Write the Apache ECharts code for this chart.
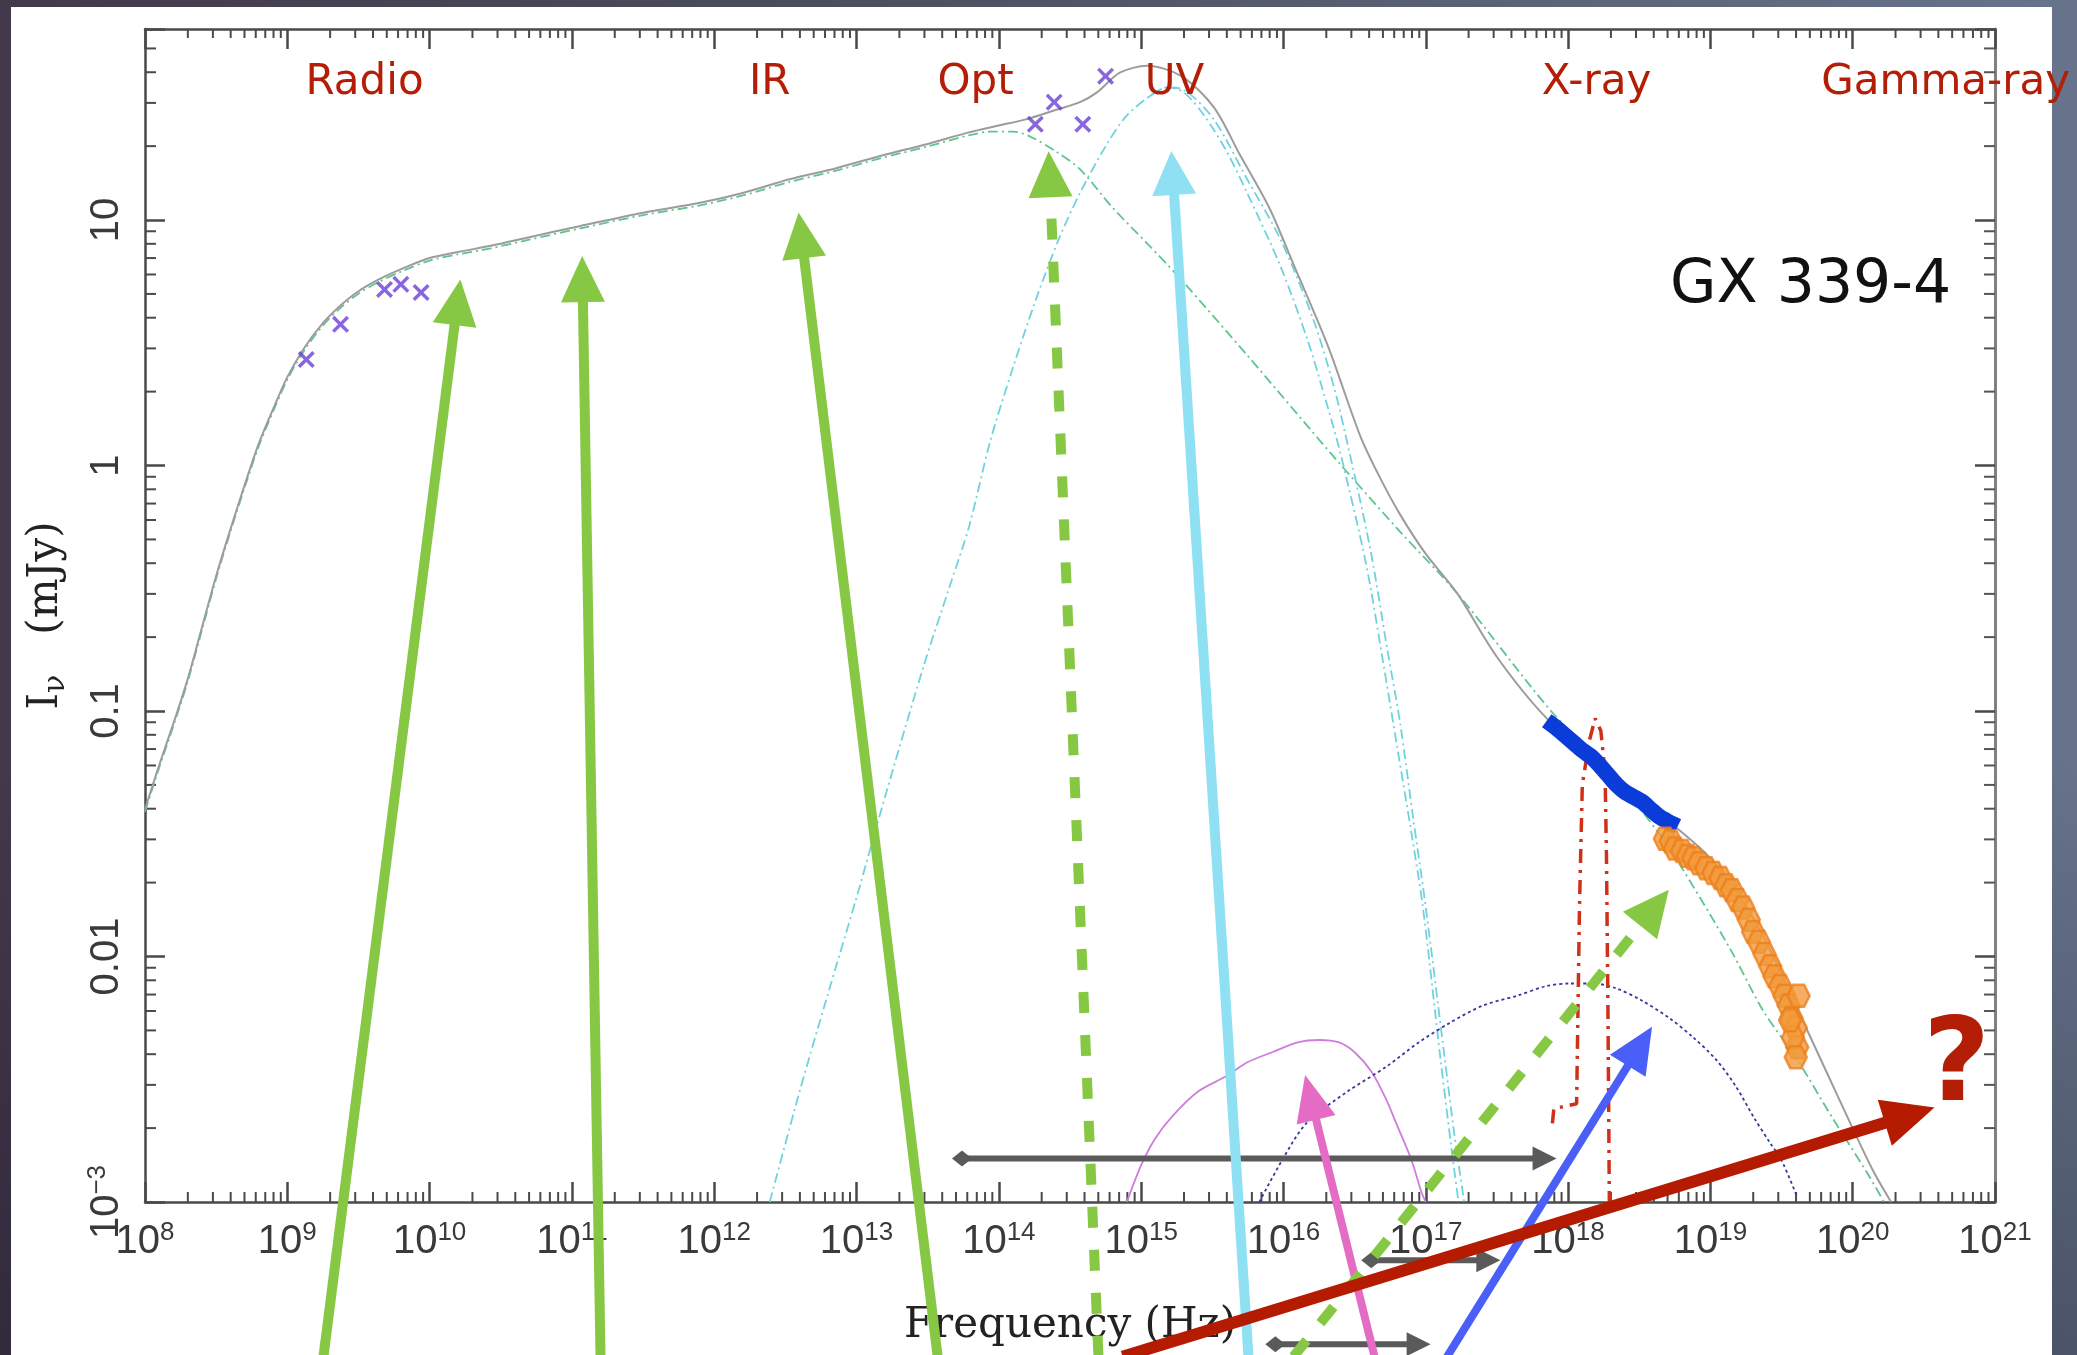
<!DOCTYPE html>
<html><head><meta charset="utf-8">
<script src="https://cdn.jsdelivr.net/npm/echarts/dist/echarts.min.js"></script>
<style>
html,body{margin:0;padding:0;width:2077px;height:1355px;overflow:hidden;}
body{background:
 linear-gradient(180deg, rgba(0,0,0,0) 55%, rgba(10,10,25,0.30) 100%),
 linear-gradient(90deg, #43394b 0%, #4b4e5d 40%, #67748b 100%);}
#panel{position:absolute;left:11px;top:7px;width:2041px;height:1348px;background:#ffffff;}
#chart{position:absolute;left:0;top:0;width:2077px;height:1355px;}
</style></head><body>
<div id="panel"></div><div id="chart"></div>
<script>
// ---------- DATA (log10 frequency [Hz], log10 flux density [mJy]) ----------
// total model (grey solid)
const totalLogNu = [8.0,8.1,8.2,8.3,8.4,8.5,8.6,8.7,8.8,8.9,9.0,9.12,9.25,9.37,9.5,9.65,9.8,10.0,10.2,10.43,10.7,11.06,11.5,11.9,12.2,12.53,12.85,13.16,13.5,13.79,14.0,14.19,14.41,14.57,14.69,14.85,15.04,15.28,15.51,15.69,15.9,16.07,16.31,16.54,16.67,16.82,17.0,17.22,17.5,17.85,18.2,18.5,18.77,19.0,19.2,19.4,19.6,19.8,20.0,20.15,20.27];
const totalLogF  = [-1.40,-1.22,-1.05,-0.87,-0.66,-0.45,-0.26,-0.08,0.09,0.23,0.36,0.48,0.58,0.65,0.71,0.76,0.80,0.845,0.87,0.895,0.93,0.976,1.03,1.07,1.11,1.166,1.21,1.26,1.31,1.357,1.385,1.41,1.45,1.48,1.52,1.6,1.628,1.587,1.46,1.27,1.05,0.82,0.49,0.12,-0.04,-0.2,-0.36,-0.52,-0.78,-1.03,-1.2,-1.36,-1.48,-1.6,-1.75,-1.95,-2.2,-2.45,-2.7,-2.88,-3.0];
// jet synchrotron (green dash-dot)
const jetLogNu = [8.0,8.1,8.2,8.3,8.4,8.5,8.6,8.7,8.8,8.9,9.0,9.12,9.25,9.37,9.5,9.65,9.8,10.0,10.2,10.43,10.7,11.06,11.5,11.9,12.2,12.53,12.85,13.16,13.5,13.79,13.94,14.1,14.22,14.4,14.57,14.8,15.05,15.28,15.75,16.35,16.82,17.22,17.88,18.3,18.64,18.79,19.14,19.37,19.61,19.85,20.1,20.22];
const jetLogF  = [-1.41,-1.23,-1.06,-0.88,-0.67,-0.46,-0.27,-0.09,0.08,0.22,0.35,0.47,0.57,0.64,0.7,0.75,0.79,0.835,0.86,0.885,0.92,0.966,1.02,1.06,1.1,1.155,1.2,1.25,1.3,1.345,1.36,1.36,1.34,1.28,1.207,1.05,0.9,0.758,0.446,0.038,-0.27,-0.52,-1.0,-1.25,-1.5,-1.63,-1.97,-2.22,-2.42,-2.65,-2.88,-3.0];
// accretion disc (cyan dash-dot, two models)
const diskLogNu = [12.39,12.6,12.8,13.0,13.2,13.47,13.65,13.79,13.94,14.1,14.26,14.42,14.57,14.75,14.89,15.05,15.18,15.3,15.51,15.745,15.98,16.21,16.35,16.43,16.61,16.73,16.82,16.91,17.0,17.13,17.2,17.27];
const diskLogF  = [-3.0,-2.55,-2.15,-1.76,-1.35,-0.82,-0.5,-0.25,0.1,0.4,0.675,0.92,1.11,1.3,1.42,1.5,1.54,1.53,1.41,1.166,0.92,0.595,0.33,0.14,-0.34,-0.75,-1.05,-1.43,-1.8,-2.4,-2.72,-3.0];
const disk2LogNu = [15.05,15.18,15.3,15.45,15.6,15.745,15.98,16.17,16.31,16.4,16.58,16.7,16.8,16.9,16.98,17.1,17.18,17.23];
const disk2LogF  = [1.5,1.54,1.52,1.42,1.28,1.11,0.81,0.51,0.24,0.05,-0.4,-0.8,-1.15,-1.5,-1.8,-2.4,-2.78,-3.0];
// magenta solid component
const softLogNu = [14.9,15.0,15.1,15.22,15.4,15.59,15.75,15.92,16.1,16.25,16.39,16.5,16.62,16.72,16.8,16.9,16.97,17.0];
const softLogF  = [-3.0,-2.85,-2.74,-2.65,-2.55,-2.49,-2.43,-2.39,-2.35,-2.34,-2.35,-2.39,-2.47,-2.58,-2.69,-2.83,-2.96,-3.0];
// navy dotted component
const hardLogNu = [15.83,16.0,16.16,16.45,16.72,16.95,17.17,17.4,17.64,17.85,18.01,18.18,18.34,18.52,18.71,18.88,19.04,19.18,19.31,19.42,19.5,19.61];
const hardLogF  = [-3.0,-2.82,-2.68,-2.55,-2.45,-2.35,-2.27,-2.2,-2.16,-2.12,-2.11,-2.11,-2.13,-2.18,-2.25,-2.33,-2.42,-2.53,-2.66,-2.76,-2.83,-2.98];
// iron line (red dash-dot)
const lineLogNu = [17.89,17.9,18.06,18.08,18.1,18.15,18.19,18.23,18.26,18.27,18.28,18.29];
const lineLogF  = [-2.68,-2.62,-2.6,-1.8,-1.3,-1.12,-1.03,-1.08,-1.25,-1.6,-2.2,-3.0];
// observed points
const radioLogNu = [9.133,9.374,9.683,9.798,9.94];
const radioLogF  = [0.432,0.575,0.717,0.738,0.705];
const optLogNu = [14.256,14.389,14.59,14.75];
const optLogF  = [1.39,1.48,1.39,1.586];
const xrayLogNu = [17.85,17.92,17.98,18.04,18.1,18.16,18.22,18.28,18.34,18.4,18.46,18.52,18.58,18.64,18.7,18.77];
const xrayLogF  = [-1.04,-1.07,-1.1,-1.13,-1.16,-1.185,-1.22,-1.26,-1.3,-1.33,-1.35,-1.37,-1.4,-1.43,-1.45,-1.47];
const hxLogNu = [18.68,18.72,18.75,18.8,18.84,18.88,18.92,18.97,19.02,19.07,19.11,19.15,19.19,19.23,19.27,19.3,19.34,19.38,19.42,19.45,19.49,19.52,19.55,19.57,19.6,19.61,19.58,19.62,19.56,19.6];
const hxLogF  = [-1.52,-1.53,-1.56,-1.57,-1.59,-1.6,-1.62,-1.64,-1.66,-1.68,-1.71,-1.73,-1.77,-1.8,-1.85,-1.9,-1.94,-1.99,-2.04,-2.08,-2.12,-2.16,-2.2,-2.25,-2.29,-2.37,-2.33,-2.16,-2.26,-2.41];
// annotation arrows (tail -> tip)
const arrowTailLogNu = [9.254,11.201,13.57,14.70,15.754,16.64,17.15,16.07,14.87];
const arrowTailLogF  = [-3.63,-3.63,-3.63,-3.63,-3.63,-3.63,-3.63,-3.63,-3.63];
const arrowTipLogNu  = [10.216,11.072,12.593,14.35,15.212,16.152,18.59,18.708,20.575];
const arrowTipLogF   = [0.758,0.853,1.031,1.28,1.281,-2.483,-2.286,-1.728,-2.615];
// band ranges (grey double-ended bars)
const rangeLoLogNu = [13.741,16.617,15.943];
const rangeHiLogNu = [17.919,17.524,17.034];
const rangeLogF    = [-2.823,-3.237,-3.579];
// text annotations
const bandNames = ['Radio','IR','Opt','UV','X-ray','Gamma-ray'];
const bandLogNu = [9.543,12.39,13.836,15.234,18.2,20.653];
const bandLogF  = [1.556,1.556,1.556,1.556,1.556,1.556];
const sourceName = ['GX 339-4'];
const sourceLogNu = [19.704];
const sourceLogF = [0.731];
const queryText = ['?'];
const queryLogNu = [20.73];
const queryLogF = [-2.46];
// axis tick labels
const yTickText = {'-3':'{b|10}{e|−3}','-2':'{b|0.01}','-1':'{b|0.1}','0':'{b|1}','1':'{b|10}'};

// ---------- helpers ----------
const P = v => Math.pow(10, v);
const pairs = (xs, ys) => xs.map((x, i) => [P(x), P(ys[i])]);
const isPow10 = v => Math.abs(Math.log10(v) - Math.round(Math.log10(v))) < 1e-6;

const arrowStyle = [
  {c:'#86c843', w:10, L:46, W:44, dash:null},
  {c:'#86c843', w:10, L:46, W:44, dash:null},
  {c:'#86c843', w:10, L:46, W:44, dash:null},
  {c:'#86c843', w:10, L:46, W:44, dash:[21,22]},
  {c:'#8ee0f2', w:10, L:44, W:44, dash:null},
  {c:'#e46cc4', w:8,  L:46, W:40, dash:null},
  {c:'#4a5ff8', w:8,  L:46, W:42, dash:null},
  {c:'#86c843', w:10, L:46, W:44, dash:[21,22]},
  {c:'#b51b00', w:12, L:52, W:48, dash:null}
];

function arrowShape(p1, p2, L, W) {
  const dx = p2[0]-p1[0], dy = p2[1]-p1[1];
  const len = Math.sqrt(dx*dx+dy*dy) || 1;
  const ux = dx/len, uy = dy/len, nx = -uy, ny = ux;
  const bx = p2[0]-ux*L, by = p2[1]-uy*L;
  return {shaftEnd:[bx+ux*2, by+uy*2],
          head:[[p2[0],p2[1]],[bx+nx*W/2, by+ny*W/2],[bx-nx*W/2, by-ny*W/2]], ux, uy, nx, ny};
}

// minor tick positions (2..9 per decade)
const xMinor = [], yMinor = [];
for (let d = 8; d < 21; d++) for (let m = 2; m <= 9; m++) xMinor.push([m*P(d), 1]);
for (let d = -3; d < 2; d++) for (let m = 2; m <= 9; m++) { const v = m*P(d); if (v < 60) yMinor.push([1e10, v]); }

const tickFont = 'Liberation Sans, Arial, Helvetica, sans-serif';
const serif = 'DejaVu Serif, Liberation Serif, serif';
const comic = 'DejaVu Sans, Noto Sans, sans-serif';
const richX = {
  b:{fontSize:40, fontFamily:tickFont, color:'#3a3a3a', lineHeight:44},
  e:{fontSize:26, fontFamily:tickFont, color:'#3a3a3a', lineHeight:30, verticalAlign:'top'}
};
const axisCommon = {
  type:'log', logBase:10, interval:1,
  axisLine:{show:true, onZero:false, lineStyle:{color:'#4a4a4a', width:2.5}},
  axisTick:{show:true, inside:true, length:20, lineStyle:{color:'#4a4a4a', width:2.5}},
  splitLine:{show:false}, minorTick:{show:false}
};

const chart = echarts.init(document.getElementById('chart'), null, {renderer:'canvas'});
const option = {
  animation:false,
  backgroundColor:'transparent',
  grid:{left:145, right:82, top:29, bottom:153, containLabel:false},
  xAxis:[
    Object.assign({}, axisCommon, {position:'bottom', min:P(8), max:P(21), splitNumber:13,
      axisLabel:{show:true, margin:18, formatter:v => isPow10(v) ? '{b|10}{e|' + Math.round(Math.log10(v)) + '}' : '', rich:richX},
      name:'Frequency (Hz)', nameLocation:'middle', nameGap:103,
      nameTextStyle:{fontFamily:serif, fontSize:42, color:'#222'}}),
    Object.assign({}, axisCommon, {position:'top', min:P(8), max:P(21), splitNumber:13, axisLabel:{show:false}})
  ],
  yAxis:[
    Object.assign({}, axisCommon, {position:'left', min:0.001, max:60, splitNumber:5,
      axisLabel:{show:true, rotate:90, margin:16,
        formatter:v => isPow10(v) ? (yTickText[String(Math.round(Math.log10(v)))] || '') : '', rich:richX},
      name:'{i|I}{s|ν}{i|   (mJy)}', nameLocation:'middle', nameRotate:90, nameGap:74,
      nameTextStyle:{rich:{i:{fontFamily:serif, fontSize:42, color:'#222', lineHeight:50},
                           s:{fontFamily:serif, fontSize:30, color:'#222', lineHeight:50, verticalAlign:'bottom'}}}}),
    Object.assign({}, axisCommon, {position:'right', min:0.001, max:60, splitNumber:5, axisLabel:{show:false},
      axisLine:{show:true, onZero:false, lineStyle:{color:'#808080', width:3}}})
  ],
  series:[
    // minor ticks
    {type:'custom', name:'xMinorTicks', xAxisIndex:0, yAxisIndex:0, silent:true, z:1, data:xMinor,
      encode:{x:0, y:1},
      renderItem:(params, api) => {
        const cs = params.coordSys; const px = api.coord([api.value(0), 1])[0];
        const st = {stroke:'#4a4a4a', lineWidth:2};
        return {type:'group', children:[
          {type:'line', shape:{x1:px, y1:cs.y+cs.height, x2:px, y2:cs.y+cs.height-10}, style:st},
          {type:'line', shape:{x1:px, y1:cs.y, x2:px, y2:cs.y+9}, style:st}]};
      }},
    {type:'custom', name:'yMinorTicks', xAxisIndex:0, yAxisIndex:0, silent:true, z:1, data:yMinor,
      encode:{x:0, y:1},
      renderItem:(params, api) => {
        const cs = params.coordSys; const py = api.coord([1e10, api.value(1)])[1];
        const st = {stroke:'#4a4a4a', lineWidth:2};
        return {type:'group', children:[
          {type:'line', shape:{x1:cs.x, y1:py, x2:cs.x+11, y2:py}, style:st},
          {type:'line', shape:{x1:cs.x+cs.width, y1:py, x2:cs.x+cs.width-11, y2:py}, style:{stroke:'#555', lineWidth:2}}]};
      }},
    // model curves
    {type:'line', name:'Jet', data:pairs(jetLogNu, jetLogF), symbol:'none', smooth:0.3, z:2,
      lineStyle:{color:'#5fc58f', width:1.8, type:[10,4,2,4]}},
    {type:'line', name:'Disc', data:pairs(diskLogNu, diskLogF), symbol:'none', smooth:0.3, z:2,
      lineStyle:{color:'#6fd3df', width:1.8, type:[10,4,2,4]}},
    {type:'line', name:'Disc 2', data:pairs(disk2LogNu, disk2LogF), symbol:'none', smooth:0.3, z:2,
      lineStyle:{color:'#6fd3df', width:1.8, type:[10,4,2,4]}},
    {type:'line', name:'Soft', data:pairs(softLogNu, softLogF), symbol:'none', smooth:0.3, z:2,
      lineStyle:{color:'#cf7ddc', width:1.8}},
    {type:'line', name:'Comptonisation', data:pairs(hardLogNu, hardLogF), symbol:'none', smooth:0.3, z:2,
      lineStyle:{color:'#3438a0', width:1.8, type:[3,3]}},
    {type:'line', name:'Total', data:pairs(totalLogNu, totalLogF), symbol:'none', smooth:0.3, z:2,
      lineStyle:{color:'#9c9c9c', width:2}},
    {type:'line', name:'Fe line', data:pairs(lineLogNu, lineLogF), symbol:'none', smooth:false, z:3,
      lineStyle:{color:'#d0301a', width:3.5, type:[14,7,3,7]}},
    // observed data
    {type:'line', name:'X-ray data', data:pairs(xrayLogNu, xrayLogF), symbol:'none', smooth:0.2, z:4,
      lineStyle:{color:'#0b3bd8', width:16, cap:'butt', join:'round'}},
    {type:'scatter', name:'Hard X-ray data', data:pairs(hxLogNu, hxLogF), z:4,
      symbol:'path://M5,0L15,0L20,8.66L15,17.32L5,17.32L0,8.66Z', symbolSize:22,
      itemStyle:{color:'#f39a3a', borderColor:'#ec7f1e', borderWidth:2.5}},
    {type:'scatter', name:'Radio/Opt data', data:pairs(radioLogNu, radioLogF).concat(pairs(optLogNu, optLogF)), z:5,
      symbol:'path://M-5,-7L0,-2L5,-7L7,-5L2,0L7,5L5,7L0,2L-5,7L-7,5L-2,0L-7,-5Z', symbolSize:17,
      itemStyle:{color:'#6a40d8'}},
    // text annotations
    {type:'custom', name:'Bands', silent:true, z:6,
      data:bandLogNu.map((x, i) => [P(x), P(bandLogF[i])]), encode:{x:0, y:1},
      renderItem:(params, api) => {
        const p = api.coord([api.value(0), api.value(1)]);
        return {type:'text', x:p[0], y:p[1], style:{text:bandNames[params.dataIndex], fill:'#b41e06',
          font:'42px ' + comic, align:'center', verticalAlign:'middle', textAlign:'center', textVerticalAlign:'middle'}};
      }},
    {type:'custom', name:'Source', silent:true, z:6,
      data:sourceLogNu.map((x, i) => [P(x), P(sourceLogF[i])]), encode:{x:0, y:1},
      renderItem:(params, api) => {
        const p = api.coord([api.value(0), api.value(1)]);
        return {type:'text', x:p[0], y:p[1], style:{text:sourceName[params.dataIndex], fill:'#111',
          font:'60px ' + comic, align:'center', verticalAlign:'middle', textAlign:'center', textVerticalAlign:'middle'}};
      }},
    // grey range bars
    {type:'custom', name:'Ranges', silent:true, z:7,
      data:rangeLoLogNu.map((x, i) => [P(x), P(rangeLogF[i]), P(rangeHiLogNu[i]), P(rangeLogF[i])]),
      encode:{x:[0,2], y:[1,3]},
      renderItem:(params, api) => {
        const p1 = api.coord([api.value(0), api.value(1)]);
        const p2 = api.coord([api.value(2), api.value(3)]);
        const a = arrowShape(p1, p2, 24, 24);
        const dl = 10, dw = 8;
        const diamond = [[p1[0]-a.ux*dl, p1[1]-a.uy*dl],[p1[0]+a.nx*dw, p1[1]+a.ny*dw],
                         [p1[0]+a.ux*dl, p1[1]+a.uy*dl],[p1[0]-a.nx*dw, p1[1]-a.ny*dw]];
        return {type:'group', children:[
          {type:'line', shape:{x1:p1[0], y1:p1[1], x2:a.shaftEnd[0], y2:a.shaftEnd[1]}, style:{stroke:'#5a5a5a', lineWidth:6}},
          {type:'polygon', shape:{points:a.head}, style:{fill:'#5a5a5a'}},
          {type:'polygon', shape:{points:diamond}, style:{fill:'#5a5a5a'}}]};
      }},
    // arrows
    {type:'custom', name:'Arrows', silent:true, z:8,
      data:arrowTailLogNu.map((x, i) => [P(x), P(arrowTailLogF[i]), P(arrowTipLogNu[i]), P(arrowTipLogF[i])]),
      encode:{x:[0,2], y:[1,3]},
      renderItem:(params, api) => {
        const s = arrowStyle[params.dataIndex];
        const p1 = api.coord([api.value(0), api.value(1)]);
        const p2 = api.coord([api.value(2), api.value(3)]);
        const a = arrowShape(p1, p2, s.L, s.W);
        const st = {stroke:s.c, lineWidth:s.w, lineCap:'butt'};
        if (s.dash) st.lineDash = s.dash;
        return {type:'group', children:[
          {type:'line', shape:{x1:p1[0], y1:p1[1], x2:a.shaftEnd[0], y2:a.shaftEnd[1]}, style:st},
          {type:'polygon', shape:{points:a.head}, style:{fill:s.c}}]};
      }},
    {type:'custom', name:'Query', silent:true, z:9,
      data:queryLogNu.map((x, i) => [P(x), P(queryLogF[i])]), encode:{x:0, y:1},
      renderItem:(params, api) => {
        const p = api.coord([api.value(0), api.value(1)]);
        return {type:'text', x:p[0], y:p[1], style:{text:queryText[params.dataIndex], fill:'#b41e06',
          font:'bold 116px ' + comic, align:'center', verticalAlign:'middle', textAlign:'center', textVerticalAlign:'middle'}};
      }}
  ]
};
chart.setOption(option);
</script></body></html>
